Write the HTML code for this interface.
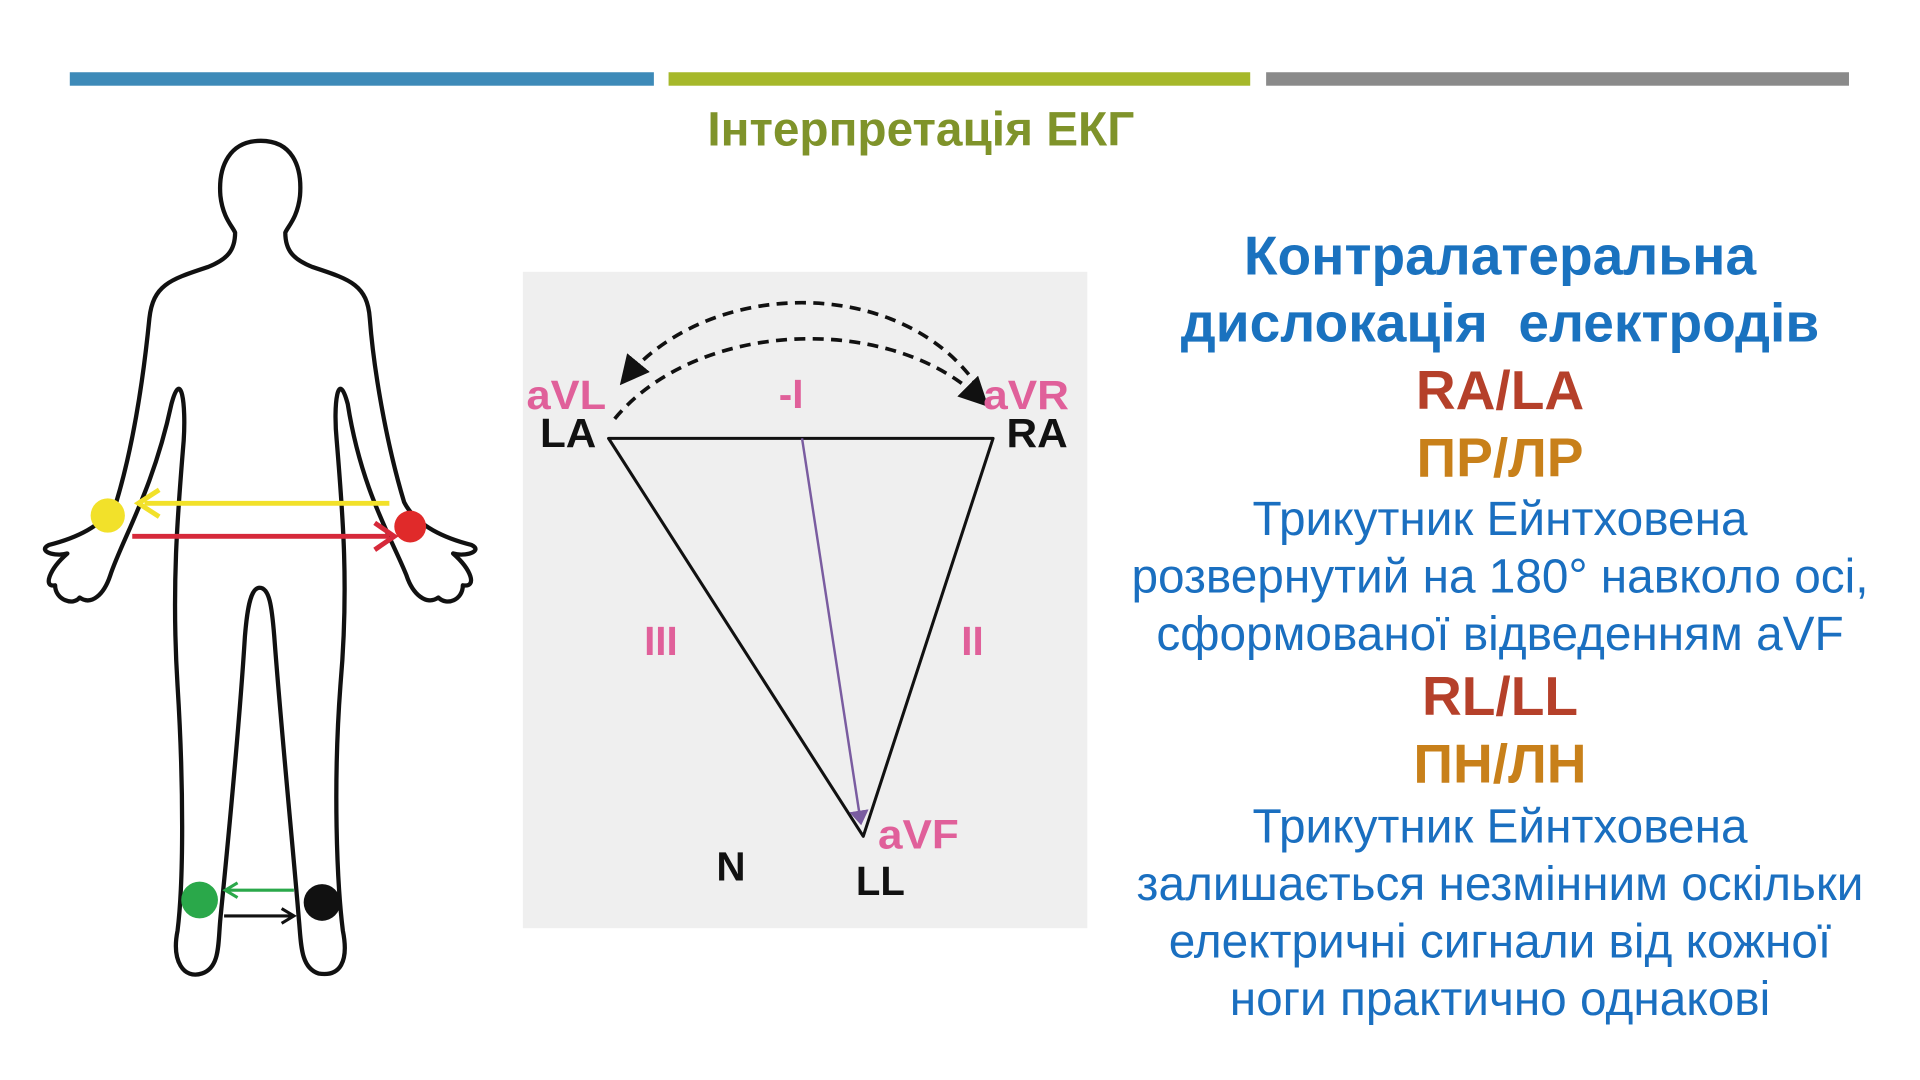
<!DOCTYPE html>
<html><head><meta charset="utf-8"><style>
html,body{margin:0;padding:0;background:#fff;width:1920px;height:1080px;overflow:hidden}
svg{display:block}
text{font-family:"Liberation Sans",Arial,sans-serif}
</style></head><body>
<svg width="1920" height="1080" viewBox="0 0 1568 882" xmlns="http://www.w3.org/2000/svg">
<defs>
<marker id="ab" markerWidth="8" markerHeight="8" refX="6" refY="4" orient="auto" markerUnits="strokeWidth"><path d="M0,0 L8,4 L0,8 Z" fill="#111"/></marker>
<marker id="ap" markerWidth="6" markerHeight="8" refX="5" refY="4" orient="auto" markerUnits="strokeWidth"><path d="M0,0 L6,4 L0,8 Z" fill="#7a5ca0"/></marker>
</defs>
<rect x="57" y="59" width="477" height="11" fill="#3d8ab8"/>
<rect x="546" y="59" width="475" height="11" fill="#a6b82a"/>
<rect x="1034" y="59" width="476" height="11" fill="#8a8a8a"/>
<text x="752" y="119" font-size="39" font-weight="bold" fill="#7f932a" text-anchor="middle">Інтерпретація ЕКГ</text>

<path d="M213,115 C188,115 178,135 180,160 C182,178 190,185 192,190 C192,205 185,212 170,218 C140,228 125,232 122,260 C118,300 110,360 95,410 C85,430 60,440 40,445 C30,450 45,455 55,452 C40,465 35,480 45,478 C45,490 60,495 65,488 C75,495 85,485 90,470 C100,440 125,400 140,330 C148,300 152,330 150,360 C145,420 140,480 145,560 C150,640 150,720 145,760 C140,785 150,800 165,795 C180,790 178,770 180,750 C185,700 195,600 200,520 C202,495 205,480 212,480 C220,480 222,495 224,520 C230,600 240,700 244,750 C246,770 245,790 260,795 C278,798 285,785 280,760 C275,720 272,640 278,560 C285,480 280,420 275,360 C272,330 276,300 284,330 C295,400 320,440 332,470 C337,485 348,495 358,488 C365,495 378,490 378,478 C390,480 385,465 370,452 C380,455 395,450 385,445 C365,440 340,430 330,410 C315,360 305,300 302,260 C300,232 285,228 255,218 C240,212 233,205 233,190 C235,185 243,178 245,160 C247,135 238,115 213,115 Z" fill="none" stroke="#111" stroke-width="3.5" stroke-linejoin="round"/>
<line x1="318" y1="411" x2="118" y2="411" stroke="#f2e12a" stroke-width="4"/>
<path d="M130,400 L113,411 L130,422" fill="none" stroke="#f2e12a" stroke-width="4"/>
<line x1="108" y1="438" x2="318" y2="438" stroke="#d6293a" stroke-width="4"/>
<path d="M306,427 L322,438 L306,449" fill="none" stroke="#d6293a" stroke-width="4"/>
<circle cx="88" cy="421" r="14" fill="#f2e12a"/>
<circle cx="335" cy="430" r="13" fill="#e02a2a"/>
<line x1="240" y1="727" x2="186" y2="727" stroke="#2aa84a" stroke-width="2.5"/>
<path d="M194,721 L184,727 L194,733" fill="none" stroke="#2aa84a" stroke-width="2.5"/>
<line x1="183" y1="748" x2="238" y2="748" stroke="#111" stroke-width="2.5"/>
<path d="M230,742 L240,748 L230,754" fill="none" stroke="#111" stroke-width="2.5"/>
<circle cx="163" cy="735" r="15" fill="#2aa84a"/>
<circle cx="263" cy="737" r="15" fill="#111"/>

<rect x="427" y="222" width="461" height="536" fill="#efefef"/>
<path d="M497,358 L811,358 L705,683 Z" fill="none" stroke="#111" stroke-width="2.5" stroke-linejoin="round"/>
<line x1="655" y1="358" x2="703" y2="672" stroke="#7a5ca0" stroke-width="2" marker-end="url(#ap)"/>
<path d="M800,318 C740,225 580,225 510,310" fill="none" stroke="#111" stroke-width="3" stroke-dasharray="9,6" marker-end="url(#ab)"/>
<path d="M502,342 C570,260 730,255 803,328" fill="none" stroke="#111" stroke-width="3" stroke-dasharray="9,6" marker-end="url(#ab)"/>
<g font-weight="bold" font-size="33">
<text x="430" y="334" fill="#e0609a" textLength="65" lengthAdjust="spacingAndGlyphs">aVL</text>
<text x="441" y="365" fill="#111" textLength="46" lengthAdjust="spacingAndGlyphs">LA</text>
<text x="636" y="333" fill="#e0609a">-I</text>
<text x="803" y="334" fill="#e0609a" textLength="70" lengthAdjust="spacingAndGlyphs">aVR</text>
<text x="822" y="365" fill="#111" textLength="50" lengthAdjust="spacingAndGlyphs">RA</text>
<text x="526" y="535" fill="#e0609a">III</text>
<text x="785" y="535" fill="#e0609a">II</text>
<text x="717" y="693" fill="#e0609a" textLength="66" lengthAdjust="spacingAndGlyphs">aVF</text>
<text x="585" y="719" fill="#111">N</text>
<text x="699" y="731" fill="#111" textLength="40" lengthAdjust="spacingAndGlyphs">LL</text>
</g>

<g text-anchor="middle">
<text x="1225" y="224" font-size="45" font-weight="bold" fill="#1a72bf">Контралатеральна</text>
<text x="1225" y="279" font-size="45" font-weight="bold" fill="#1a72bf" xml:space="preserve">дислокація  електродів</text>
<text x="1225" y="334" font-size="45" font-weight="bold" fill="#b5402a">RA/LA</text>
<text x="1225" y="389" font-size="45" font-weight="bold" fill="#c8801a">ПР/ЛР</text>
<g font-size="39" fill="#1a6fc0">
<text x="1225" y="437">Трикутник Ейнтховена</text>
<text x="1225" y="484">розвернутий на 180° навколо осі,</text>
<text x="1225" y="531">сформованої відведенням aVF</text>
</g>
<text x="1225" y="584" font-size="45" font-weight="bold" fill="#b5402a">RL/LL</text>
<text x="1225" y="639" font-size="45" font-weight="bold" fill="#c8801a">ПН/ЛН</text>
<g font-size="39" fill="#1a6fc0">
<text x="1225" y="688">Трикутник Ейнтховена</text>
<text x="1225" y="735">залишається незмінним оскільки</text>
<text x="1225" y="782">електричні сигнали від кожної</text>
<text x="1225" y="829">ноги практично однакові</text>
</g>
</g>
</svg>
</body></html>
